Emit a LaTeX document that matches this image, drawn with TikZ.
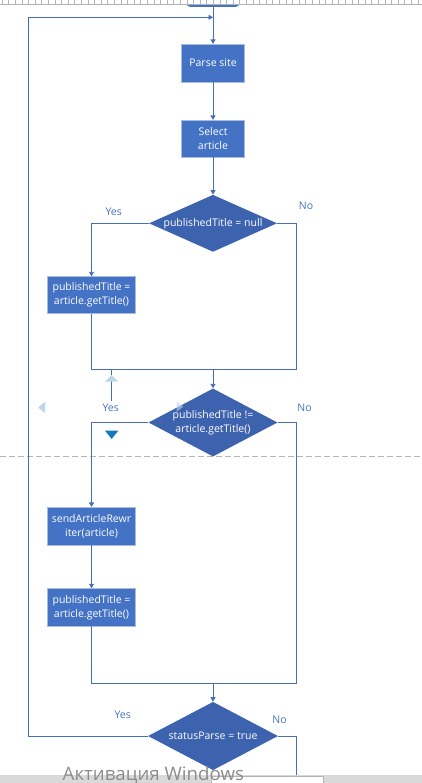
\documentclass[tikz,border=0pt]{standalone}
\usepackage{fontspec}
\setmainfont{Open Sans}
\usetikzlibrary{shapes.geometric,arrows.meta}
\definecolor{boxfill}{HTML}{4472C4}
\definecolor{boxline}{HTML}{A9BCE0}
\definecolor{diafill}{HTML}{3D63AE}
\definecolor{conn}{HTML}{4A6EB3}
\definecolor{lbl}{HTML}{4A72BE}
\definecolor{uilight}{HTML}{BCD6EE}
\definecolor{uidark}{HTML}{1479BE}
\definecolor{rulergray}{HTML}{B4B4B4}
\definecolor{bargray}{HTML}{D9D9D9}
\begin{document}
\begin{tikzpicture}[x=1pt,y=-1pt,
  txt/.style={font=\fontsize{10.5}{14}\selectfont},
  proc/.style={rectangle, fill=boxfill, draw=boxline, line width=0.8pt, text=white, align=center, inner sep=0pt, txt},
  dec/.style={diamond, fill=diafill, draw=none, inner sep=0pt},
  dectext/.style={text=white, align=center, txt, inner sep=0pt},
  arr/.style={draw=conn, line width=0.9pt, -{Triangle[width=5pt,length=4.5pt]}},
  ln/.style={draw=conn, line width=0.9pt},
  yn/.style={text=lbl, inner sep=0pt, txt}]
\useasboundingbox (0,0) rectangle (422,783);
\fill[white] (0,0) rectangle (422,783);

% top terminator (partly hidden under the ruler)
\node[rectangle, rounded corners=4pt, fill=boxfill, minimum width=53pt, minimum height=16pt, inner sep=0pt] (term) at (213,-1) {};
% ruler
\fill[white] (0,0) rectangle (422,4.3);
\draw[rulergray, line width=0.6pt] (0,4.3) -- (422,4.3);
\foreach \i in {0,...,64} { \draw[rulergray, line width=0.6pt] ({2+\i*6.6},0) -- ({2+\i*6.6},4.3); }

% page break line
\draw[rulergray, line width=0.7pt, dash pattern=on 6pt off 3pt] (0,456.7) -- (422,456.7);

% nodes
\node[proc, minimum width=62.6pt, minimum height=37.7pt] (parse) at (213,63.2) {Parse site};
\node[proc, minimum width=62.6pt, minimum height=36.7pt] (select) at (213,138.7) {Select\\article};
\node[dec, minimum width=128pt, minimum height=57pt] (d1) at (213,223.3) {};
\node[dectext] at (d1.center) {publishedTitle = null};
\node[proc, minimum width=87.6pt, minimum height=36.6pt] (pt1) at (91.5,295) {publishedTitle =\\article.getTitle()};
\node[dec, minimum width=129pt, minimum height=68pt] (d2) at (213,422.5) {};
\node[dectext] at (d2.center) {publishedTitle !=\\article.getTitle()};
\node[proc, minimum width=87.6pt, minimum height=37.7pt] (send) at (91.5,526.2) {sendArticleRewr\\iter(article)};
\node[proc, minimum width=87.6pt, minimum height=37.3pt] (pt2) at (91.5,607.3) {publishedTitle =\\article.getTitle()};
\node[dec, minimum width=130pt, minimum height=68.3pt] (d3) at (213,736) {};
\node[dectext] at (d3.center) {statusParse = true};

% helper coordinates
\coordinate (jn) at (213,17.3);
\coordinate (lft) at (28.3,17.3);
\coordinate (m1) at (213,369.7);
\coordinate (r1) at (296.7,369.7);
\coordinate (m2) at (213,683.3);
\coordinate (r2) at (296.7,683.3);
\coordinate (out) at (296.7,777);

% connectors
\draw[arr] (term.south) -- (parse.north);
\draw[arr] (parse.south) -- (select.north);
\draw[arr] (select.south) -- (d1.north);
\draw[arr] (d1.west) -| (pt1.north);
\draw[ln] (pt1.south) |- (m1);
\draw[ln] (d1.east) -| (r1) -- (m1);
\draw[arr] (m1) -- (d2.north);
\draw[arr] (d2.west) -| (send.north);
\draw[arr] (send.south) -- (pt2.north);
\draw[ln] (pt2.south) |- (m2);
\draw[ln] (d2.east) -| (r2) -- (m2);
\draw[arr] (m2) -- (d3.north);
\draw[arr] (d3.west) -| (lft) -- (jn);
\draw[ln] (d3.east) -| (out);

% labels
\node[yn] (y1) at (113.7,211.5) {Yes};
\node[yn] (n1) at (306,205.5) {No};
\node[yn] (y2) at (110.7,407.5) {Yes};
\node[yn] (n2) at (304.5,407.5) {No};
\node[yn] (y3) at (122.7,714.5) {Yes};
\node[yn] (n3) at (279.5,719.5) {No};

% editor handles
\draw[ln] (111.3,369.7) -- (111.3,400.5);
\fill[uilight] (105,381.7) -- (118.3,381.7) -- (111.7,375) -- cycle;
\fill[uilight] (38.3,407.5) -- (45,401.7) -- (45,413.3) -- cycle;
\fill[uilight, opacity=0.6] (183.3,406.7) -- (176.7,401.7) -- (176.7,411.7) -- cycle;
\fill[uidark] (105,430.7) -- (118.3,430.7) -- (111.7,439) -- cycle;

% bottom bar
\fill[bargray] (0,775) rectangle (422,783);
\filldraw[fill=white, draw=rulergray, line width=0.6pt] (211.7,776.7) rectangle (323.3,784);
\node[anchor=base west, inner sep=0pt, text=black!45, font=\fontsize{18.7}{20}\selectfont] (wm) at (62.5,780.5) {Активация Windows};
\end{tikzpicture}
\end{document}
